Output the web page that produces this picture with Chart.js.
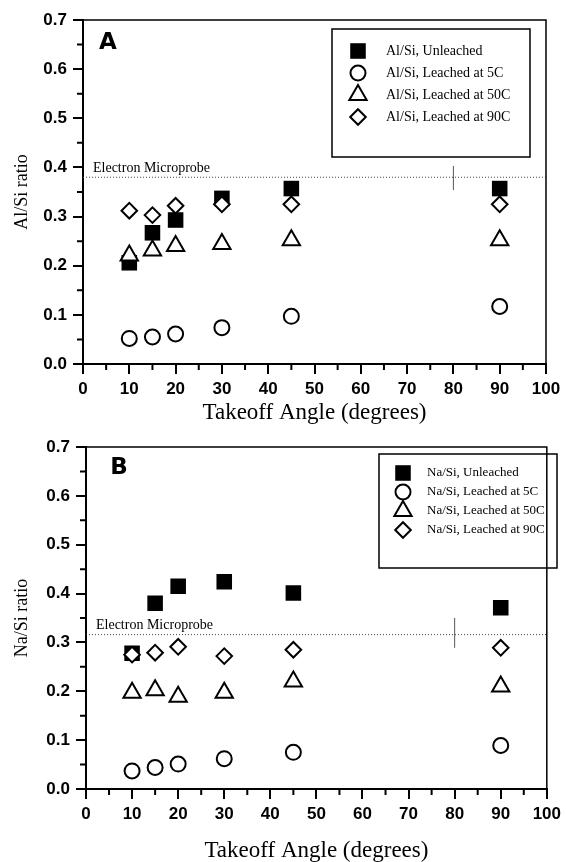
<!DOCTYPE html>
<html>
<head>
<meta charset="utf-8">
<script src="https://cdn.jsdelivr.net/npm/chart.js@4.4.1/dist/chart.umd.min.js"></script>
<style>
  html, body { margin: 0; padding: 0; background: #fff; }
  body { width: 566px; height: 862px; position: relative; overflow: hidden; }
  .panel { position: absolute; left: 0; width: 566px; }
  #panel-a { top: 0; height: 430px; }
  #panel-b { top: 425px; height: 437px; }
</style>
</head>
<body>
<div class="panel" id="panel-a"><canvas id="chart-a"></canvas></div>
<div class="panel" id="panel-b"><canvas id="chart-b"></canvas></div>
<script>
// Takeoff angles (degrees) shared by every series
const angles = [10, 15, 20, 30, 45, 90];

// Panel A: Al/Si ratio
const alUnleached = [0.206, 0.267, 0.293, 0.337, 0.357, 0.357];
const al5C = [0.052, 0.055, 0.061, 0.074, 0.097, 0.117];
const al50C = [0.221, 0.231, 0.240, 0.244, 0.252, 0.252];
const al90C = [0.312, 0.303, 0.322, 0.325, 0.325, 0.325];
const alLabels = ['Al/Si, Unleached', 'Al/Si, Leached at 5C', 'Al/Si, Leached at 50C', 'Al/Si, Leached at 90C'];
const alProbe = 0.380;
const alProbeMark = [0.354, 0.403];

// Panel B: Na/Si ratio
const naUnleached = [0.278, 0.380, 0.415, 0.424, 0.401, 0.371];
const na5C = [0.037, 0.044, 0.051, 0.062, 0.075, 0.089];
const na50C = [0.197, 0.202, 0.189, 0.197, 0.220, 0.210];
const na90C = [0.275, 0.279, 0.291, 0.272, 0.285, 0.289];
const naLabels = ['Na/Si, Unleached', 'Na/Si, Leached at 5C', 'Na/Si, Leached at 50C', 'Na/Si, Leached at 90C'];
const naProbe = 0.316;
const naProbeMark = [0.289, 0.350];

// Electron microprobe line runs across the x range, marker sits at 80
const probeSpan = [0, 100];
const probeMarkX = 80;

// Axis ticks
const xMinorTicks = [5, 15, 25, 35, 45, 55, 65, 75, 85, 95];
const yMinorTicks = [0.05, 0.15, 0.25, 0.35, 0.45, 0.55, 0.65];

const serif = "'Liberation Serif', 'Times New Roman', serif";
const sans = "'Liberation Sans', Arial, sans-serif";

Chart.defaults.font.family = serif;
Chart.defaults.color = '#000';

// Marker look for the four series (unleached, 5C, 50C, 90C)
const markers = [
  { pointStyle: 'rect', radius: 11, fill: '#000', borderWidth: 0 },
  { pointStyle: 'circle', radius: 7.5, fill: '#fff', borderWidth: 2 },
  { pointStyle: 'triangle', radius: 10, fill: '#fff', borderWidth: 2 },
  { pointStyle: 'rectRot', radius: 7.8, fill: '#fff', borderWidth: 2 },
];

const toPoints = (ys) => angles.map((a, i) => ({ x: a, y: ys[i] }));

// Frame, minor ticks, panel letter, microprobe label and the boxed legend
const panelDecor = {
  id: 'panelDecor',
  afterDraw(chart, args, opts) {
    const { ctx, chartArea: a } = chart;
    const x = chart.scales.x;
    const y = chart.scales.y;
    ctx.save();
    ctx.strokeStyle = '#000';
    ctx.lineWidth = 1.5;
    ctx.beginPath();
    ctx.moveTo(a.left, a.top);
    ctx.lineTo(a.right, a.top);
    ctx.lineTo(a.right, a.bottom);
    ctx.stroke();

    // minor ticks
    ctx.lineWidth = 2;
    ctx.beginPath();
    xMinorTicks.forEach((v) => {
      const px = x.getPixelForValue(v);
      ctx.moveTo(px, a.bottom);
      ctx.lineTo(px, a.bottom + 6);
    });
    yMinorTicks.forEach((v) => {
      const py = y.getPixelForValue(v);
      ctx.moveTo(a.left, py);
      ctx.lineTo(a.left - 6, py);
    });
    ctx.stroke();

    // panel letter
    ctx.fillStyle = '#000';
    ctx.font = "bold 23px 'DejaVu Sans', sans-serif";
    ctx.textAlign = 'center';
    ctx.textBaseline = 'middle';
    ctx.fillText(opts.letter, opts.letterX, opts.letterY);

    // microprobe label
    ctx.font = `14px ${serif}`;
    ctx.textAlign = 'left';
    ctx.textBaseline = 'bottom';
    ctx.fillText('Electron Microprobe', a.left + 10, y.getPixelForValue(opts.probe) - 2);

    // legend box
    const b = opts.box;
    ctx.lineWidth = 1.5;
    ctx.strokeRect(b.left, b.top, b.right - b.left, b.bottom - b.top);
    ctx.font = `${opts.legendSize}px ${serif}`;
    ctx.textBaseline = 'middle';
    opts.labels.forEach((text, i) => {
      const m = markers[i];
      const ry = opts.rowY + i * opts.rowGap;
      ctx.fillStyle = m.fill;
      ctx.strokeStyle = '#000';
      ctx.lineWidth = m.borderWidth;
      Chart.helpers.drawPoint(ctx, {
        pointStyle: m.pointStyle, radius: m.radius, rotation: 0, borderWidth: m.borderWidth,
      }, opts.markerX, ry);
      ctx.fillStyle = '#000';
      ctx.fillText(text, opts.textX, ry);
    });
    ctx.restore();
  },
};

const makeChart = (id, series, labels, probe, probeMark, yTitle, geo) => {
  const ctx = document.getElementById(id);
  const datasets = series.map((ys, i) => ({
    label: labels[i],
    data: toPoints(ys),
    pointStyle: markers[i].pointStyle,
    pointRadius: markers[i].radius,
    pointHoverRadius: markers[i].radius,
    backgroundColor: markers[i].fill,
    borderColor: '#000',
    borderWidth: markers[i].borderWidth,
    order: 10 - i,
  }));
  // dotted microprobe line
  datasets.push({
    data: probeSpan.map((v) => ({ x: v, y: probe })),
    showLine: true,
    borderColor: '#444',
    borderWidth: 1,
    borderDash: [1, 2],
    pointRadius: 0,
    order: 20,
  });
  // short vertical marker
  datasets.push({
    data: probeMark.map((v) => ({ x: probeMarkX, y: v })),
    showLine: true,
    borderColor: '#555',
    borderWidth: 1,
    pointRadius: 0,
    order: 20,
  });

  // eslint-disable-next-line no-unused-vars
  const chart = new Chart(ctx, {
    type: 'scatter',
    data: { datasets },
    options: {
      responsive: true,
      maintainAspectRatio: false,
      animation: false,
      devicePixelRatio: 1,
      layout: {
        padding: { top: geo.top, right: geo.right, left: 0, bottom: 0 },
      },
      scales: {
        x: {
          type: 'linear',
          min: 0,
          max: 100,
          afterFit: (scale) => { scale.height = geo.xHeight; },
          grid: {
            drawOnChartArea: false, tickLength: 10, tickWidth: 2, tickColor: '#000', lineWidth: 2,
          },
          border: { color: '#000', width: 2 },
          ticks: {
            stepSize: 10, padding: 5, maxRotation: 0, color: '#000', font: { family: sans, size: 17, weight: 'bold' },
          },
          title: {
            display: true,
            text: 'Takeoff Angle (degrees)',
            font: { family: serif, size: 23, lineHeight: 1 },
            padding: { top: 0, bottom: geo.xTitlePad },
          },
        },
        y: {
          type: 'linear',
          min: 0,
          max: 0.7,
          afterFit: (scale) => { scale.width = geo.yWidth; },
          grid: {
            drawOnChartArea: false, tickLength: 10, tickWidth: 2, tickColor: '#000', lineWidth: 2,
          },
          border: { color: '#000', width: 2 },
          ticks: {
            stepSize: 0.1,
            padding: 6,
            color: '#000',
            font: { family: sans, size: 17, weight: 'bold' },
            callback: (value) => value.toFixed(1),
          },
          title: {
            display: true,
            text: yTitle,
            font: { family: serif, size: 18, lineHeight: 1 },
            padding: { top: 13, bottom: 0 },
          },
        },
      },
      plugins: {
        legend: { display: false },
        tooltip: { enabled: false },
        panelDecor: geo.decor,
      },
    },
    plugins: [panelDecor],
  });
};

makeChart('chart-a', [alUnleached, al5C, al50C, al90C], alLabels, alProbe, alProbeMark, 'Al/Si ratio', {
  top: 20,
  right: 20,
  xHeight: 66,
  yWidth: 83,
  xTitlePad: 6,
  decor: {
    letter: 'A',
    letterX: 108,
    letterY: 43,
    probe: alProbe,
    box: { left: 332, top: 29, right: 530, bottom: 157 },
    labels: alLabels,
    legendSize: 14,
    markerX: 358,
    textX: 386,
    rowY: 51,
    rowGap: 22,
  },
});

makeChart('chart-b', [naUnleached, na5C, na50C, na90C], naLabels, naProbe, naProbeMark, 'Na/Si ratio', {
  top: 22,
  right: 18,
  xHeight: 73,
  yWidth: 86,
  xTitlePad: 0,
  decor: {
    letter: 'B',
    letterX: 119,
    letterY: 43,
    probe: naProbe,
    box: { left: 379, top: 29, right: 557, bottom: 143 },
    labels: naLabels,
    legendSize: 13,
    markerX: 403,
    textX: 427,
    rowY: 48,
    rowGap: 19,
  },
});
</script>
</body>
</html>
